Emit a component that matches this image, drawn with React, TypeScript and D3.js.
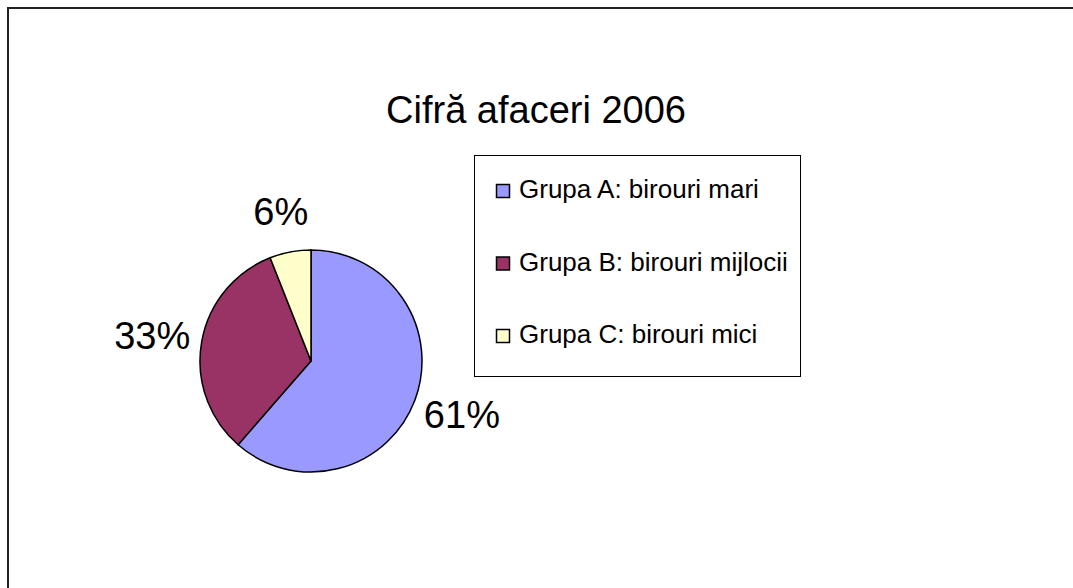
import * as d3 from "d3";
import { useEffect, useRef } from "react";

const categories = [
  "Grupa A: birouri mari",
  "Grupa B: birouri mijlocii",
  "Grupa C: birouri mici",
];
const values = [61.4, 32.6, 6.0];
const labels = ["61%", "33%", "6%"];
const colors = ["#9999FF", "#993366", "#FFFFCC"];

const W = 1073;
const H = 588;

export default function App() {
  const svgRef = useRef<SVGSVGElement>(null);

  useEffect(() => {
    if (!svgRef.current) return;
    const svg = d3.select(svgRef.current);
    svg.selectAll("*").remove();

    const font = "Liberation Sans, Arial, sans-serif";

    // chart frame (only the top and left edges are visible)
    svg
      .append("rect")
      .attr("x", 8)
      .attr("y", 8)
      .attr("width", W + 40)
      .attr("height", H + 40)
      .attr("fill", "white")
      .attr("stroke", "#222")
      .attr("stroke-width", 2);

    // title
    svg
      .append("text")
      .attr("x", 536)
      .attr("y", 123)
      .attr("text-anchor", "middle")
      .style("font-family", font)
      .style("font-size", "38px")
      .attr("fill", "black")
      .text("Cifră afaceri 2006");

    // pie
    const cx = 311;
    const cy = 361;
    const r = 111;

    const pie = d3
      .pie<number>()
      .sort(null)
      .value((d) => d);
    const arcs = pie(values);
    const arc = d3.arc<d3.PieArcDatum<number>>().innerRadius(0).outerRadius(r);
    const labelArc = d3
      .arc<d3.PieArcDatum<number>>()
      .innerRadius(152)
      .outerRadius(152);

    const g = svg.append("g").attr("transform", `translate(${cx},${cy})`);

    g.selectAll("path")
      .data(arcs)
      .enter()
      .append("path")
      .attr("d", arc)
      .attr("fill", (_, i) => colors[i])
      .attr("stroke", "black")
      .attr("stroke-width", 1.5)
      .attr("stroke-linejoin", "round");

    // labels sit a little wider horizontally than vertically
    g.selectAll("text")
      .data(arcs)
      .enter()
      .append("text")
      .attr("transform", (d) => {
        const [x, y] = labelArc.centroid(d);
        return `translate(${x * 1.06},${y})`;
      })
      .attr("text-anchor", "middle")
      .attr("dy", "0.36em")
      .style("font-family", font)
      .style("font-size", "38px")
      .attr("fill", "black")
      .text((_, i) => labels[i]);

    // legend
    const legend = svg.append("g");
    legend
      .append("rect")
      .attr("x", 474.5)
      .attr("y", 155.5)
      .attr("width", 326)
      .attr("height", 221)
      .attr("fill", "white")
      .attr("stroke", "black")
      .attr("stroke-width", 1);

    const rowY = d3
      .scalePoint<string>()
      .domain(categories)
      .range([198, 343]);

    const item = legend
      .selectAll("g.item")
      .data(categories)
      .enter()
      .append("g")
      .attr("class", "item")
      .attr("transform", (d) => `translate(0,${rowY(d)})`);

    item
      .append("rect")
      .attr("x", 496.5)
      .attr("y", -13.5)
      .attr("width", 13)
      .attr("height", 13)
      .attr("fill", (_, i) => colors[i])
      .attr("stroke", "black")
      .attr("stroke-width", 1.5);

    item
      .append("text")
      .attr("x", 519)
      .attr("y", 0)
      .style("font-family", font)
      .style("font-size", "26px")
      .attr("fill", "black")
      .text((d) => d);
  }, []);

  return (
    <svg
      ref={svgRef}
      width={W}
      height={H}
      style={{ position: "absolute", left: 0, top: 0, background: "white" }}
    />
  );
}
